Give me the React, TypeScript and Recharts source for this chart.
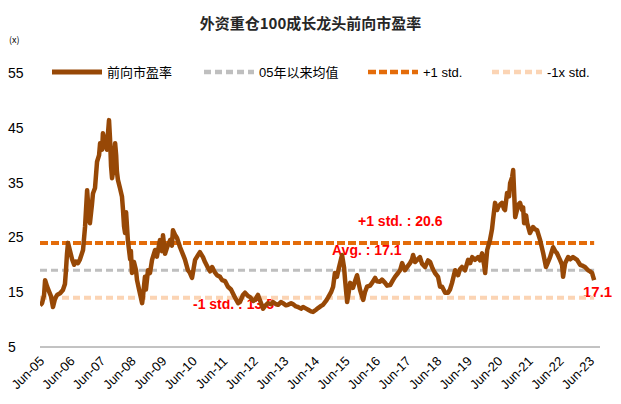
import React from "react"
import { LineChart, Line, XAxis, YAxis, ReferenceLine } from "recharts"

// months counted from Jun-05, value = forward P/E
const months = [
  -0.4, 0.4, 1.2, 1.6, 2.4, 3.1, 3.9, 4.7, 5.5, 6.3, 7.5, 8.6, 9.4, 9.8, 10.2, 10.6, 11.4, 12.2, 13.0, 13.7,
  14.5, 15.3, 16.5, 17.3, 18.1, 18.5, 19.2, 20.0, 20.4, 21.2, 22.0, 22.8, 23.2, 24.0, 24.3, 25.1, 25.9, 26.3, 26.7, 27.1,
  27.5, 27.9, 28.3, 28.7, 29.1, 29.5, 29.8, 30.2, 31.0, 31.8, 32.2, 32.6, 33.0, 33.4, 34.1, 35.0, 35.3, 35.7, 36.5, 37.3,
  37.7, 38.5, 39.7, 40.1, 40.8, 41.2, 42.0, 42.8, 43.6, 44.8, 45.5, 46.7, 47.5, 47.9, 48.7, 49.5, 50.7, 51.4, 51.8, 52.6,
  53.4, 54.6, 55.8, 56.5, 57.7, 58.5, 59.3, 60.5, 61.7, 62.4, 63.6, 64.4, 65.6, 66.4, 67.2, 68.3, 69.1, 70.3, 71.1, 72.3,
  73.4, 74.6, 76.2, 77.4, 78.1, 79.3, 80.1, 81.3, 82.1, 83.3, 84.0, 85.2, 86.0, 87.2, 88.0, 89.1, 90.3, 91.1, 92.3, 93.1,
  94.2, 95.0, 96.2, 97.0, 98.2, 99.0, 100.1, 100.9, 102.1, 102.9, 104.1, 104.9, 106.0, 106.8, 108.0, 108.8, 110.0, 110.7, 111.9, 112.7,
  113.9, 114.7, 115.4, 116.2, 117.0, 118.2, 119.0, 119.4, 120.2, 121.0, 121.4, 122.5, 123.3, 124.1, 125.3, 126.5, 127.2, 128.0, 129.2, 130.0,
  131.2, 131.9, 133.1, 133.9, 135.1, 135.9, 137.1, 138.2, 139.0, 140.2, 141.0, 141.8, 142.9, 144.1, 144.9, 145.7, 146.1, 146.9, 147.7, 148.8,
  149.6, 150.8, 152.0, 152.8, 153.6, 154.7, 155.9, 156.7, 157.5, 158.7, 159.8, 160.6, 161.4, 162.6, 163.8, 164.5, 165.3, 166.5, 167.7, 168.5,
  169.3, 170.4, 171.6, 172.4, 173.2, 174.0, 174.4, 175.2, 176.3, 177.1, 177.5, 178.3, 179.1, 179.5, 180.3, 181.0, 181.8, 182.2, 183.0, 183.8,
  184.2, 185.0, 185.4, 185.8, 186.2, 186.9, 187.3, 188.1, 188.9, 189.3, 189.7, 190.5, 190.9, 192.0, 193.2, 194.0, 194.8, 196.0, 197.2, 198.3,
  199.1, 199.9, 201.1, 201.9, 202.6, 203.8, 204.6, 205.0, 205.8, 207.0, 207.8, 208.9, 210.5, 211.7, 212.8, 213.6, 214.8, 215.6, 216.4, 217.2,
]
const pe = [
  12.6, 13.0, 14.5, 17.2, 16.0, 15.2, 14.3, 12.3, 13.8, 14.5, 14.8, 15.4, 16.5, 19.0, 22.0, 24.0, 22.5, 21.0, 20.0, 20.6,
  20.3, 21.0, 22.7, 27.0, 33.6, 31.0, 27.6, 31.0, 33.0, 34.0, 38.8, 40.0, 42.2, 41.0, 44.0, 42.5, 41.0, 44.0, 46.4, 43.0,
  38.0, 35.8, 37.0, 40.0, 42.2, 40.0, 37.0, 35.5, 34.0, 32.4, 30.0, 27.0, 25.8, 29.6, 24.5, 21.0, 22.5, 18.5, 20.5, 19.0,
  17.2, 15.5, 13.0, 14.5, 17.8, 15.5, 19.0, 18.5, 20.9, 22.7, 21.5, 24.5, 22.5, 25.4, 22.0, 23.2, 24.5, 23.5, 26.3, 25.5,
  24.9, 23.2, 21.8, 21.0, 19.0, 18.5, 17.6, 20.9, 21.8, 22.3, 21.4, 20.5, 19.4, 18.8, 19.6, 18.6, 18.1, 17.8, 17.2, 17.0,
  16.0, 15.5, 14.0, 13.0, 13.2, 14.5, 14.9, 14.3, 14.1, 13.4, 13.6, 14.5, 13.5, 12.0, 12.5, 13.0, 12.8, 13.2, 12.8, 12.7,
  13.2, 13.0, 12.6, 12.7, 13.0, 12.8, 12.4, 12.3, 12.0, 12.3, 12.0, 11.8, 11.5, 11.4, 11.8, 12.1, 12.5, 12.7, 13.4, 14.0,
  15.0, 16.0, 18.5, 17.8, 19.5, 21.8, 19.5, 17.2, 13.2, 15.5, 16.7, 15.8, 17.0, 18.1, 15.4, 13.6, 15.0, 16.0, 16.2, 16.7,
  17.6, 17.0, 16.9, 17.3, 16.7, 16.2, 16.3, 17.2, 17.8, 18.5, 19.0, 20.3, 19.0, 19.8, 20.3, 21.0, 21.8, 20.5, 20.9, 21.4,
  20.2, 19.6, 20.8, 20.5, 19.5, 18.5, 17.8, 16.0, 16.0, 14.9, 14.9, 15.5, 16.7, 19.0, 18.1, 19.2, 19.6, 19.0, 20.9, 20.3,
  21.4, 20.9, 21.4, 20.8, 22.1, 20.0, 18.5, 22.7, 24.5, 26.5, 28.2, 31.3, 30.0, 30.5, 31.0, 31.3, 30.2, 30.0, 33.1, 32.5,
  34.9, 36.0, 37.3, 33.0, 28.7, 30.0, 30.9, 31.3, 30.0, 30.5, 27.6, 29.0, 27.6, 25.8, 26.9, 26.5, 26.3, 24.5, 22.1, 19.6,
  20.5, 21.4, 23.2, 22.5, 22.1, 20.9, 20.0, 17.8, 20.3, 21.4, 21.0, 21.4, 20.9, 20.0, 19.8, 19.6, 19.0, 18.8, 18.5, 17.2,
]

const xTicks = [0, 12, 24, 36, 48, 60, 72, 84, 96, 108, 120, 132, 144, 156, 168, 180, 192, 204, 216]
const xTickLabels = [
  "Jun-05", "Jun-06", "Jun-07", "Jun-08", "Jun-09", "Jun-10", "Jun-11", "Jun-12", "Jun-13", "Jun-14",
  "Jun-15", "Jun-16", "Jun-17", "Jun-18", "Jun-19", "Jun-20", "Jun-21", "Jun-22", "Jun-23",
]
const yTicks = [5, 15, 25, 35, 45, 55]

const avgLevel = 19
const plusLevel = 24
const minusLevel = 14

const legendNames = ["前向市盈率", "05年以来均值", "+1 std.", "-1x std."]
const legendColors = ["#974806", "#BFBFBF", "#E46C0A", "#FBD4B4"]
const legendDash = ["", "7 4", "8 3", "7 4"]

const data = months.map((m, i) => ({ m, pe: pe[i] }))
const firstM = months[0]
const lastM = months[months.length - 1]

const latin = "'Liberation Sans', Arial, sans-serif"
const cjk = "'Liberation Sans', 'Noto Sans CJK SC', sans-serif"

const XTick = ({ x, y, payload }: any) => {
  const idx = xTicks.indexOf(payload.value)
  const ax = x + 4
  const ay = y + 7
  return (
    <text x={ax} y={ay} transform={`rotate(-45 ${ax} ${ay})`} textAnchor="end" fontSize={13} fill="#000" fontFamily={latin}>
      {xTickLabels[idx]}
    </text>
  )
}

const YTick = ({ y, payload }: any) => (
  <text x={8} y={y} dy="0.36em" textAnchor="start" fontSize={14} fill="#000" fontFamily={latin}>
    {payload.value}
  </text>
)

const legendX = [52, 204, 368, 492]

function LegendRow() {
  return (
    <svg width={621} height={20} style={{ position: "absolute", left: 0, top: 62 }}>
      {legendNames.map((name, i) => (
        <g key={name}>
          <line
            x1={legendX[i]}
            x2={legendX[i] + 50}
            y1={10}
            y2={10}
            stroke={legendColors[i]}
            strokeWidth={i === 0 ? 5 : 4.5}
            strokeDasharray={legendDash[i] || undefined}
          />
          <text x={legendX[i] + 55} y={10} dy="0.36em" fontSize={13} fontFamily={cjk} fill="#000">
            {name}
          </text>
        </g>
      ))}
    </svg>
  )
}

const note = (left: number, top: number, text: string, size = 14) => (
  <div
    style={{
      position: "absolute",
      left,
      top,
      fontFamily: latin,
      fontSize: size,
      fontWeight: 700,
      color: "#FF0000",
      lineHeight: "16px",
      whiteSpace: "nowrap",
    }}
  >
    {text}
  </div>
)

export default function App() {
  return (
    <div style={{ position: "absolute", left: 0, top: 0, width: 621, height: 404, background: "#fff" }}>
      <div
        style={{
          position: "absolute",
          left: 0,
          top: 12,
          width: 621,
          textAlign: "center",
          fontFamily: "'Noto Sans CJK SC', sans-serif",
          fontWeight: 700,
          fontSize: 15,
          color: "#262626",
        }}
      >
        外资重仓100成长龙头前向市盈率
      </div>
      <div style={{ position: "absolute", left: 9, top: 33, fontSize: 9, fontFamily: "'Noto Sans CJK SC', sans-serif" }}>(x)</div>
      {/* notes sit under the chart so the line is drawn over them */}
      {note(358, 213, "+1 std. : 20.6")}
      {note(332, 242, "Avg. : 17.1")}
      {note(193, 296, "-1 std. : 13.5")}
      {note(583, 284, "17.1", 15)}
      <LineChart width={621} height={404} data={data} margin={{ top: 73, right: 21, bottom: 7, left: 0 }}>
        <XAxis
          type="number"
          dataKey="m"
          domain={[-0.4, 219.5]}
          ticks={xTicks}
          tick={<XTick />}
          tickLine={false}
          axisLine={{ stroke: "#868686", strokeWidth: 1 }}
          height={50}
          interval={0}
          allowDataOverflow
        />
        <YAxis
          type="number"
          domain={[5, 55]}
          ticks={yTicks}
          tick={<YTick />}
          tickLine={false}
          axisLine={false}
          width={40}
          interval={0}
        />
        <ReferenceLine
          segment={[{ x: firstM, y: minusLevel }, { x: lastM, y: minusLevel }]}
          stroke="#FBD4B4"
          strokeWidth={4}
          strokeDasharray="7 4"
        />
        <ReferenceLine
          segment={[{ x: firstM, y: avgLevel }, { x: lastM, y: avgLevel }]}
          stroke="#BFBFBF"
          strokeWidth={3}
          strokeDasharray="7 4"
        />
        <ReferenceLine
          segment={[{ x: firstM, y: plusLevel }, { x: lastM, y: plusLevel }]}
          stroke="#E46C0A"
          strokeWidth={4}
          strokeDasharray="8 3"
        />
        <Line
          type="linear"
          dataKey="pe"
          stroke="#974806"
          strokeWidth={4.5}
          strokeLinejoin="round"
          dot={false}
          isAnimationActive={false}
        />
      </LineChart>
      <LegendRow />
    </div>
  )
}
